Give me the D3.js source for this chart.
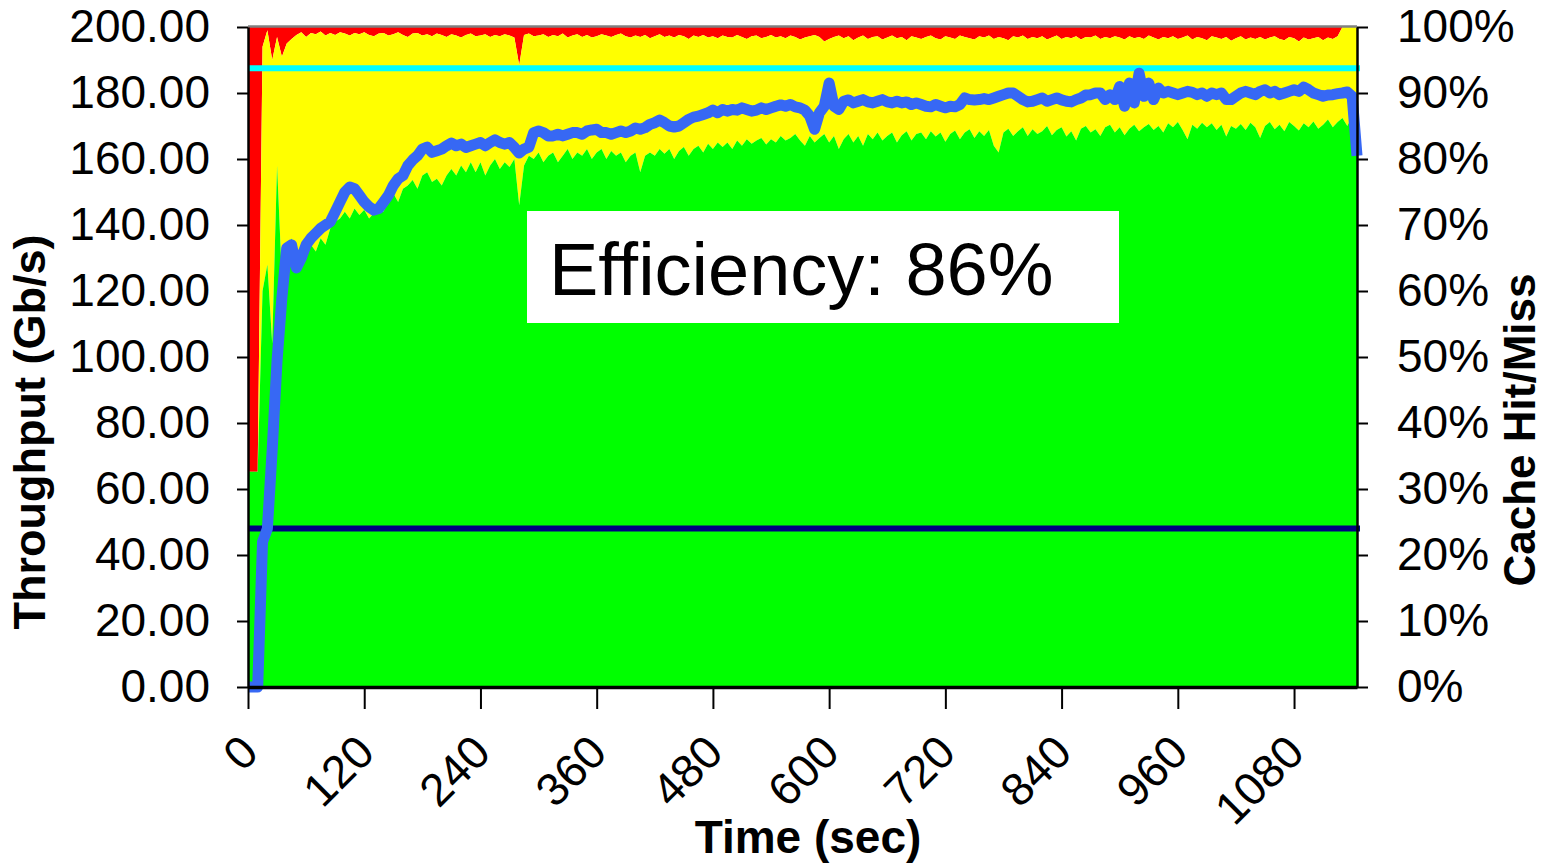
<!DOCTYPE html>
<html>
<head>
<meta charset="utf-8">
<script src="https://cdn.jsdelivr.net/npm/d3@7"></script>
<style>
  html, body { margin: 0; padding: 0; background: #ffffff; }
  svg { display: block; font-family: "Liberation Sans", Arial, sans-serif; }
</style>
</head>
<body>
<svg id="chart" width="1543" height="864"></svg>
<script>
// Samples every 5 seconds over the run
const SAMPLE_STEP = 5;

// Cache hit share of requests (%), green band
const hitPct = [
  32.6,32.6,32.6,60,64,52,79,62,66,68,
  65,66.5,65,67,66,68,67,69.5,70.5,71,
  72,71,72.5,71.5,72.3,71,71.8,73,72,74,
  74.8,73.5,75.5,76,76.8,75.5,77.5,78,76.5,77,
  76,77.5,78.5,77.5,79,78,79.5,78,79.5,77.5,
  79,80,78.5,79.5,78.8,80,73,79,80.5,80,
  81,79.5,80.5,81,79.5,80.5,81.5,80,81,80.5,
  81.5,80,81,81.5,80,81.2,80.5,81,79.5,80.5,
  81,78,80.5,81,80.5,81.5,80.8,81.5,80,81.2,
  81.8,80.5,81.5,82,81,82.3,81.5,82.5,81.8,82.5,
  81.5,82.8,82,83,82.3,82.8,83.2,82.2,83,82.5,
  83.5,82.8,83.2,83.8,82.8,82,83.5,82.5,83.2,83.8,
  82.5,83.5,81.5,83,83.8,82.5,83.5,82,83.8,83,
  84,82.8,83.5,84,82.5,83.6,84.2,82.8,83.8,84,
  83,84.2,83.4,84,82.6,83.8,84.3,83,84,84.5,
  83.2,84.2,83.5,84.4,82,81,84,84.6,83.5,84.2,
  84.8,83.5,84.5,83.8,84.2,85,83.6,84.4,84.8,83.4,
  84.2,82.8,84.6,85,84,84.5,83.5,84.8,85.2,84,
  84.8,83.6,84.6,85.2,84.2,84.8,85.3,84.4,85,84,
  85.4,84.8,85.6,84.4,83,85.2,84.6,85.5,84.8,85.4,
  84.4,85.2,83.4,85,84.6,85.3,84.4,85.5,84.8,83.2,
  85,85.6,84.5,85.2,84.2,85.6,85,84.3,85.4,84.8,
  85.7,84.6,85.2,86,84.8,85.6,86.2,85,86.5,85
];

// Failed / dropped share (%), red band at the top
const dropPct = [
  67.4,67.4,67.4,3,0.5,5,1.5,4.5,2.5,1.8,
  1.2,0.8,1.5,0.9,1.1,0.7,1.3,0.9,1.2,0.8,
  1.0,1.3,0.9,1.1,0.8,1.2,1.4,1.0,0.9,1.3,
  1.1,0.8,1.2,1.5,1.0,0.9,1.3,1.1,1.4,1.0,
  1.2,1.5,1.1,1.3,1.6,1.2,1.0,1.4,1.3,1.1,
  1.5,1.2,1.4,1.1,1.3,1.6,5.8,1.2,1.0,1.4,
  1.3,1.1,1.5,1.2,1.4,1.0,1.6,1.3,1.1,1.5,
  1.2,1.6,1.4,1.1,1.3,1.5,1.2,1.0,1.4,1.6,
  1.3,1.5,1.2,1.7,1.4,1.1,1.5,1.3,1.6,1.2,
  1.4,1.8,1.3,1.5,1.2,1.6,1.4,1.7,1.3,1.5,
  1.6,1.2,1.5,1.8,1.4,1.3,1.7,1.5,1.2,1.6,
  1.4,1.7,1.3,1.5,1.9,1.6,1.4,1.2,1.5,2.2,
  1.8,1.5,1.3,1.7,1.4,2.0,1.6,1.3,1.8,1.5,
  1.4,1.9,1.6,1.3,1.7,1.5,2.0,1.4,1.6,1.8,
  1.5,1.3,1.7,1.9,1.4,1.6,1.8,1.3,1.5,1.7,
  1.9,1.4,1.6,1.3,1.8,1.5,1.7,2.0,1.4,1.6,
  1.3,1.8,1.5,1.7,1.4,1.9,1.6,1.3,1.8,1.5,
  1.7,1.4,1.9,1.5,1.6,1.3,1.8,1.5,1.7,1.4,
  1.6,1.9,1.4,1.7,1.5,1.8,1.3,1.6,1.9,1.5,
  1.7,1.4,1.8,1.6,1.3,1.9,1.5,1.7,2.0,1.4,
  1.6,1.8,1.5,2.1,1.7,1.4,1.9,1.6,1.8,1.5,
  1.9,1.6,1.4,1.8,2.0,1.5,1.7,2.2,1.6,1.9,
  1.7,1.5,2.0,1.6,1.8,1.4,0,0,0,0
];

// Delivered throughput (Gb/s), blue line
const throughput = [
  0,0,0,44,48,72,99,118,133,134,
  127,130,134,136,137.5,139,140,141,144,147,
  150,151.5,151,149,147,145.5,144.5,145,147,149,
  152,154,155,158,159.7,161,163,163.6,162,162.5,
  163,164,164.8,164,164.5,163.5,164,164.5,165,164,
  165,165.8,165,164.5,165,163.5,161.8,163,163.6,168,
  168.5,168,167,167,167.5,167,167.5,168,168,167.5,
  168.5,168.8,169,168,168,167.5,168,168.5,168,168.5,
  169.4,169,169.5,170.5,171,171.8,171,170,169.7,170,
  171,172,172.7,173,173.5,174,174.8,174,175,174.5,
  175,174.8,175.5,175,174.5,174.8,175.5,175,175.5,176,
  176.4,176,176.5,175.8,175.5,174.8,173,169,174,176,
  183,176,175,177.5,177.9,177,177.5,178,177.3,177,
  177.5,178,177.3,177,177.5,177,177.3,176.5,177,176.5,
  176,175.8,176.5,176,175.5,176,175.8,176.5,178.5,178,
  177.9,178,178.3,178,178.5,179,179.5,180,180,179,
  178,177.3,177.5,178,178.5,177.5,178,178.5,177.9,177.5,
  177.3,178,178.5,179.4,179.5,180,180,178,179.5,178,
  182,176,183,177,186,179,183,178,181.5,180,
  180.5,180,179.5,180,180.5,180.2,179.5,180,179,180,
  179.5,180,178,178,179,180,180.5,180,179.5,180.5,
  181,180,180.5,179.5,180,180.5,181,180.5,181.8,181,
  180,179.5,179,179.4,179.5,179.8,180,180.3,179,161
];

// Reference levels (Gb/s)
const linkCapacity = 187.5;
const baselineRate = 48;

// Axis ticks
const timeTicks = [0, 120, 240, 360, 480, 600, 720, 840, 960, 1080];
const rateTicks = [0, 20, 40, 60, 80, 100, 120, 140, 160, 180, 200];
const pctTicks = [0, 10, 20, 30, 40, 50, 60, 70, 80, 90, 100];

const efficiencyLabel = "Efficiency: 86%";

const rows = hitPct.map((h, i) => ({
  t: i * SAMPLE_STEP,
  hit: h,
  top: 100 - dropPct[i],
  rate: throughput[i]
}));

const svg = d3.select("#chart");
const plot = { left: 248, right: 1357, top: 27, bottom: 687 };

const x = d3.scaleLinear().domain([0, d3.max(rows, d => d.t)]).range([plot.left, plot.right]);
const yRate = d3.scaleLinear().domain([0, 200]).range([plot.bottom, plot.top]);
const yPct = d3.scaleLinear().domain([0, 100]).range([plot.bottom, plot.top]);

// Stacked shares: red (drop) on top, yellow (miss), green (hit)
svg.append("path").datum(rows)
  .attr("fill", "#ff0000")
  .attr("d", d3.area().x(d => x(d.t)).y0(d => yPct(d.top)).y1(() => yPct(100)));
svg.append("path").datum(rows)
  .attr("fill", "#ffff00")
  .attr("d", d3.area().x(d => x(d.t)).y0(d => yPct(d.hit)).y1(d => yPct(d.top)));
svg.append("path").datum(rows)
  .attr("fill", "#00ff00")
  .attr("d", d3.area().x(d => x(d.t)).y0(() => yPct(0)).y1(d => yPct(d.hit)));

// Plot frame top edge
svg.append("line")
  .attr("x1", plot.left).attr("x2", plot.right)
  .attr("y1", plot.top - 0.5).attr("y2", plot.top - 0.5)
  .attr("stroke", "#808080").attr("stroke-width", 2.5);

// Efficiency callout
svg.append("rect")
  .attr("x", 527).attr("y", 211).attr("width", 592).attr("height", 112)
  .attr("fill", "#ffffff");
svg.append("text")
  .attr("x", 549).attr("y", 295)
  .attr("font-size", 74).attr("fill", "#000")
  .text(efficiencyLabel);

// Reference levels
svg.append("line")
  .attr("x1", x(0)).attr("x2", plot.right + 3)
  .attr("y1", yRate(linkCapacity)).attr("y2", yRate(linkCapacity))
  .attr("stroke", "#00ffff").attr("stroke-width", 6);
svg.append("line")
  .attr("x1", x(0)).attr("x2", plot.right + 3)
  .attr("y1", yRate(baselineRate)).attr("y2", yRate(baselineRate))
  .attr("stroke", "#000080").attr("stroke-width", 6);

// Throughput line
svg.append("path").datum(rows)
  .attr("fill", "none")
  .attr("stroke", "#3768f4")
  .attr("stroke-width", 11)
  .attr("stroke-linejoin", "round")
  .attr("d", d3.line().x(d => x(d.t)).y(d => yRate(d.rate)));

// Axes
const fontSize = 46;
const left = svg.append("g").attr("transform", `translate(${plot.left},0)`)
  .call(d3.axisLeft(yRate).tickValues(rateTicks).tickFormat(d3.format(".2f"))
    .tickSize(11).tickSizeOuter(0).tickPadding(27));
const right = svg.append("g").attr("transform", `translate(${plot.right},0)`)
  .call(d3.axisRight(yPct).tickValues(pctTicks).tickFormat(d => d + "%")
    .tickSize(11).tickSizeOuter(0).tickPadding(29));
const bottom = svg.append("g").attr("transform", `translate(0,${plot.bottom})`)
  .call(d3.axisBottom(x).tickValues(timeTicks).tickFormat(d => d)
    .tickSize(22).tickSizeOuter(0));

[left, right, bottom].forEach(g => {
  g.select(".domain").attr("stroke", "#000").attr("stroke-width", 2.5);
  g.selectAll(".tick line").attr("stroke", "#000").attr("stroke-width", 2);
  g.selectAll("text").attr("font-size", fontSize).attr("fill", "#000")
    .attr("font-family", "'Liberation Sans', Arial, sans-serif");
});
bottom.select(".domain").attr("stroke-width", 3.5);

bottom.selectAll(".tick text")
  .attr("text-anchor", "end")
  .attr("dy", 0)
  .attr("y", 0)
  .attr("transform", "translate(12,68) rotate(-45)");

// Axis titles
svg.append("text")
  .attr("transform", "translate(45,432) rotate(-90)")
  .attr("text-anchor", "middle")
  .attr("font-size", 45).attr("font-weight", "bold")
  .text("Throughput (Gb/s)");
svg.append("text")
  .attr("transform", "translate(1535,430) rotate(-90)")
  .attr("text-anchor", "middle")
  .attr("font-size", 44).attr("font-weight", "bold")
  .text("Cache Hit/Miss");
svg.append("text")
  .attr("x", 808).attr("y", 853)
  .attr("text-anchor", "middle")
  .attr("font-size", 46).attr("font-weight", "bold")
  .text("Time (sec)");
</script>
</body>
</html>
